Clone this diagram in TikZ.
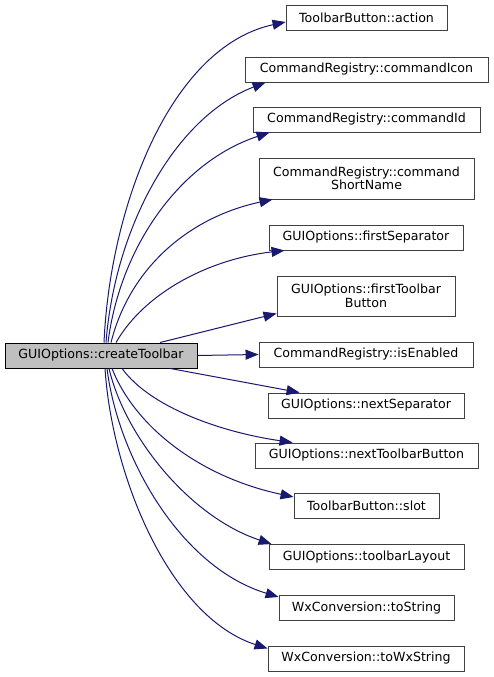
\documentclass[tikz,border=0pt]{standalone}
\usepackage{fontspec}
\setmainfont{DejaVu Sans}
\usetikzlibrary{arrows.meta}
\definecolor{edgecol}{HTML}{191970}
\definecolor{mainfill}{HTML}{BFBFBF}
\definecolor{boxline}{HTML}{404040}
\begin{document}
\begin{tikzpicture}[x=1pt,y=1pt,
  box/.style={draw=boxline, line width=0.9pt, fill=white, minimum height=25pt, inner sep=0pt,
    font=\fontsize{12.6}{13.4}\selectfont, align=center},
  callee/.style={draw=edgecol, line width=1pt, -{Triangle[length=13pt,width=10pt]}},
]
\useasboundingbox[fill=white] (0,0) rectangle (493,677);
\node[box, fill=mainfill, draw=black, minimum width=192pt] (m) at (101,321.5) {GUIOptions::createToolbar};
\node[box, minimum width=161pt] (t1) at (366.5,659) {ToolbarButton::action};
\node[box, minimum width=243pt] (t2) at (366.5,607.5) {CommandRegistry::commandIcon};
\node[box, minimum width=227pt] (t3) at (366.5,557.5) {CommandRegistry::commandId};
\node[box, minimum width=215pt, minimum height=41pt] (t4) at (366.5,498.5) {CommandRegistry::command\\ShortName};
\node[box, minimum width=194pt] (t5) at (366,439.5) {GUIOptions::firstSeparator};
\node[box, minimum width=178pt, minimum height=40pt] (t6) at (366,381) {GUIOptions::firstToolbar\\Button};
\node[box, minimum width=214pt] (t7) at (366,322.5) {CommandRegistry::isEnabled};
\node[box, minimum width=196pt] (t8) at (366,271.5) {GUIOptions::nextSeparator};
\node[box, minimum width=223pt] (t9) at (366.5,221.5) {GUIOptions::nextToolbarButton};
\node[box, minimum width=145pt] (t10) at (366.5,171) {ToolbarButton::slot};
\node[box, minimum width=195pt] (t11) at (366.5,120) {GUIOptions::toolbarLayout};
\node[box, minimum width=175pt] (t12) at (366.5,69) {WxConversion::toString};
\node[box, minimum width=196pt] (t13) at (366,18.5) {WxConversion::toWxString};

\draw[callee] ([xshift=3pt]m.north) .. controls (110,470) and (170,630) .. ([yshift=-4pt]t1.west);
\draw[callee] ([xshift=5pt]m.north) .. controls (115,450) and (175,560) .. ([xshift=21pt]t2.south west);
\draw[callee] ([xshift=7pt]m.north) .. controls (120,430) and (180,515) .. ([xshift=17pt]t3.south west);
\draw[callee] ([xshift=10pt]m.north) .. controls (130,410) and (190,460) .. ([xshift=14pt]t4.south west);
\draw[callee] ([xshift=15pt]m.north) .. controls (145,385) and (210,418) .. ([xshift=16pt]t5.south west);
\draw[callee] ([xshift=59pt]m.north) -- ([yshift=3pt]t6.south west);
\draw[callee] (m.east) -- (t7.west);
\draw[callee] ([xshift=69pt]m.south) -- ([xshift=32pt]t8.north west);
\draw[callee] ([xshift=21pt]m.south) .. controls (150,270) and (220,245) .. ([xshift=38pt]t9.north west);
\draw[callee] ([xshift=11pt]m.south) .. controls (135,250) and (200,200) .. ([yshift=9pt]t10.west);
\draw[callee] ([xshift=8pt]m.south) .. controls (125,240) and (190,160) .. ([xshift=3pt]t11.north west);
\draw[callee] ([xshift=6pt]m.south) .. controls (118,220) and (180,110) .. ([yshift=11pt]t12.west);
\draw[callee] ([xshift=4pt]m.south) .. controls (112,200) and (170,60) .. ([yshift=10pt]t13.west);
\end{tikzpicture}
\end{document}
